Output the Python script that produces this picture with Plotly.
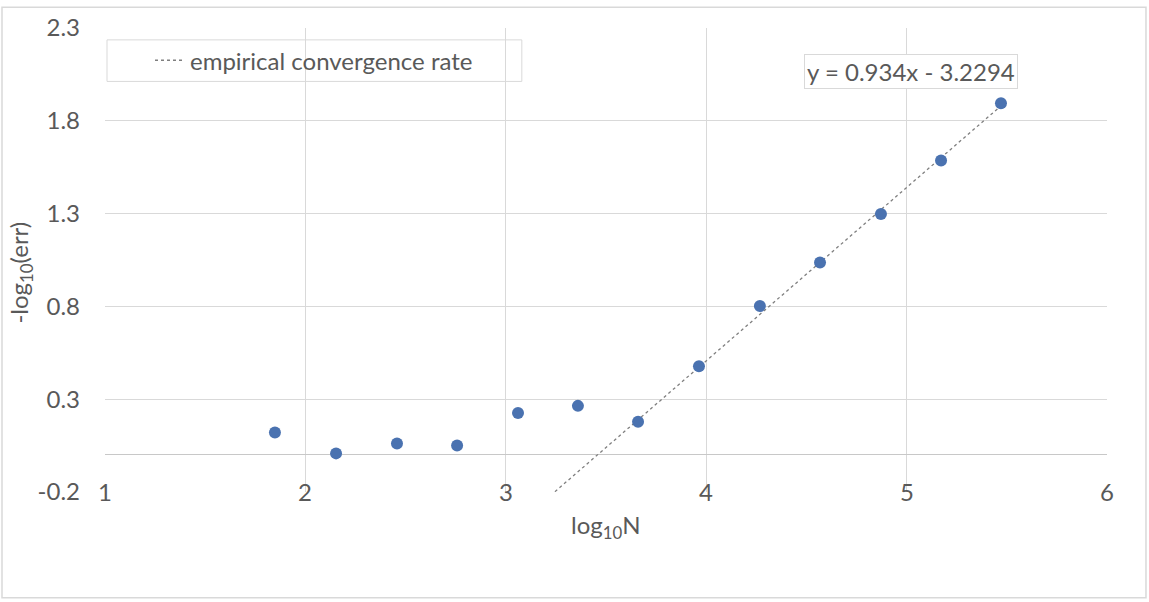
import plotly.graph_objects as go

log10_N = [1.848, 2.153, 2.457, 2.757, 3.061, 3.360, 3.660, 3.964, 4.268, 4.568, 4.872, 5.172, 5.471]
neg_log10_err = [0.120, 0.008, 0.061, 0.050, 0.226, 0.264, 0.178, 0.477, 0.802, 1.037, 1.298, 1.586, 1.895]

trend_slope = 0.934
trend_intercept = -3.2294
trend_x = [3.20, 5.471]
trend_y = [trend_slope * x + trend_intercept for x in trend_x]

x_ticks = [1, 2, 3, 4, 5, 6]
y_ticks = [-0.2, 0.3, 0.8, 1.3, 1.8, 2.3]

FONT = "Lato"
TXT = "#595959"
GRID = "#d9d9d9"
FS = 24

fig = go.Figure()
fig.add_trace(go.Scatter(
    x=trend_x, y=trend_y, mode="lines",
    line=dict(color="#7f7f7f", width=1.3, dash="dot"),
    name="empirical convergence rate", showlegend=True,
))
fig.add_trace(go.Scatter(
    x=log10_N, y=neg_log10_err, mode="markers",
    marker=dict(color="#4a72b0", size=12),
    showlegend=False, name="data",
))

annotations = []
for t in x_ticks:
    annotations.append(dict(x=t, y=-0.2, xref="x", yref="y", text=str(t),
                            showarrow=False, xanchor="center", yanchor="middle",
                            font=dict(family=FONT, size=FS, color=TXT)))
annotations.append(dict(x=0.5, y=-0.075, xref="paper", yref="paper",
                        text="log<sub>10</sub>N", showarrow=False,
                        xanchor="center", yanchor="middle",
                        font=dict(family=FONT, size=FS, color=TXT)))
annotations.append(dict(x=-0.0848, y=0.473, xref="paper", yref="paper",
                        text="-log<sub>10</sub>(err)", showarrow=False, textangle=-90,
                        xanchor="center", yanchor="middle",
                        font=dict(family=FONT, size=FS, color=TXT)))
annotations.append(dict(x=5.022, y=2.066, xref="x", yref="y",
                        text="y = 0.934x - 3.2294", showarrow=False,
                        xanchor="center", yanchor="middle",
                        bgcolor="white", bordercolor=GRID, borderwidth=1, borderpad=2,
                        font=dict(family=FONT, size=FS, color=TXT)))

fig.update_layout(
    width=1149, height=602,
    margin=dict(l=105, r=42, t=23, b=110),
    paper_bgcolor="white", plot_bgcolor="white",
    font=dict(family=FONT, size=FS, color=TXT),
    xaxis=dict(range=[1, 6.0001], tickvals=x_ticks, showticklabels=False,
               showgrid=True, gridcolor=GRID, gridwidth=1, zeroline=False,
               showline=False, fixedrange=True),
    yaxis=dict(range=[-0.2001, 2.3001], tickvals=y_ticks, ticktext=[str(v) for v in y_ticks],
               showgrid=True, gridcolor=GRID, gridwidth=1,
               zeroline=True, zerolinecolor="#c8c8c8", zerolinewidth=1,
               showline=False, ticks="", ticklabelstandoff=24,
               tickfont=dict(family=FONT, size=FS, color=TXT)),
    legend=dict(x=0.0449, y=0.9296, xanchor="left", yanchor="middle",
                borderwidth=0, bgcolor="rgba(0,0,0,0)",
                font=dict(family=FONT, size=FS, color=TXT), itemwidth=30),
    annotations=annotations,
    shapes=[
        dict(type="rect", xref="paper", yref="paper",
             x0=-0.1028, x1=1.0389, y0=-0.2281, y1=1.0448,
             line=dict(color="#d9d9d9", width=1.5), layer="below"),
        dict(type="rect", xref="paper", yref="paper",
             x0=0.002, x1=0.416, y0=0.8849, y1=0.9744,
             line=dict(color="#d9d9d9", width=1), fillcolor="white", layer="below"),
    ],
)

fig.write_html("out.html", config={"displayModeBar": False},
               post_script="document.body.style.margin='0px';document.body.style.overflow='hidden';")
